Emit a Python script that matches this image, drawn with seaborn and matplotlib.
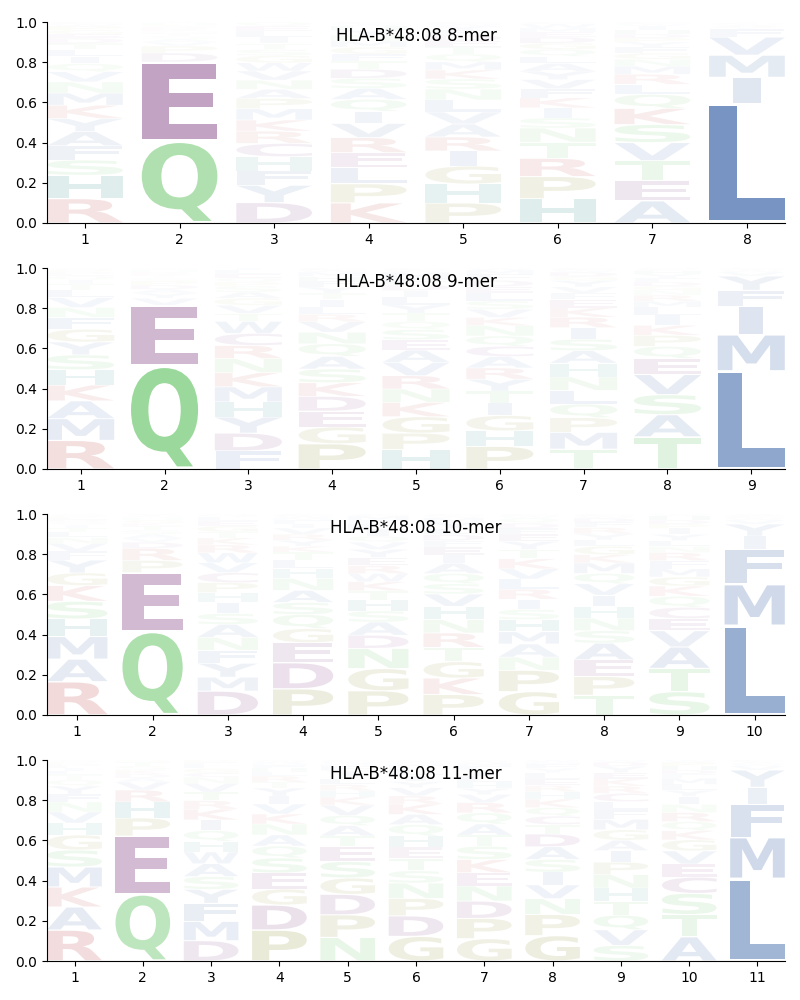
import matplotlib
matplotlib.use("Agg")
import matplotlib.pyplot as plt
import seaborn as sns
from matplotlib.textpath import TextPath
from matplotlib.patches import PathPatch
from matplotlib.font_manager import FontProperties
from matplotlib.transforms import Affine2D

allele = "HLA-B*48:08"
lengths = [8, 9, 10, 11]

# per-position amino-acid probabilities, listed bottom-to-top as stacked in the logo
mer8 = [
    dict(R=.12, H=.115, S=.075, F=.07, A=.07, Y=.065, K=.065, M=.06, N=.055, V=.05, Q=.04, I=.035, L=.035, T=.03, D=.025, E=.02, G=.02, P=.02, W=.01, C=.01),
    dict(Q=.41, E=.395, D=.045, P=.035, V=.02, A=.015, S=.015, T=.015, N=.01, K=.01, R=.01, G=.01, H=.01, Y=.005),
    dict(D=.10, Y=.085, F=.07, H=.07, C=.065, R=.06, K=.055, M=.055, P=.05, A=.045, N=.045, V=.045, W=.04, G=.035, S=.03, T=.03, I=.03, L=.03, E=.025, Q=.02),
    dict(K=.10, P=.095, L=.08, E=.075, R=.075, V=.07, I=.06, Q=.06, A=.055, S=.05, D=.045, T=.04, F=.035, G=.035, M=.03, N=.03, Y=.025, H=.02, W=.01, C=.01),
    dict(P=.10, H=.095, G=.09, I=.075, R=.07, A=.065, V=.06, L=.06, N=.055, S=.05, K=.045, M=.04, Q=.04, T=.035, E=.03, D=.03, F=.025, Y=.02, W=.01, C=.01),
    dict(H=.12, P=.11, R=.09, T=.08, N=.07, S=.05, I=.05, K=.05, F=.045, V=.045, Y=.04, A=.04, L=.035, Q=.035, G=.03, D=.03, E=.025, M=.02, W=.02, C=.01),
    dict(A=.11, E=.10, T=.10, V=.09, S=.09, K=.08, Q=.07, L=.05, R=.05, M=.04, N=.035, G=.03, F=.03, Y=.025, P=.02, D=.02, H=.02, I=.02, W=.01, C=.01),
    dict(L=.595, I=.13, M=.11, V=.09, F=.04, Y=.01, A=.008, W=.006, C=.006, T=.005),
]
mer9 = [
    dict(R=.145, M=.11, A=.09, K=.08, H=.078, S=.075, Y=.065, G=.065, F=.06, N=.05, V=.05, L=.04, T=.03, I=.02, Q=.02, E=.01, D=.01, P=.01, W=.005, C=.005),
    dict(Q=.515, E=.30, V=.035, Y=.025, A=.02, D=.02, P=.02, S=.015, T=.01, K=.01, R=.01, H=.01, N=.005, G=.005),
    dict(F=.09, D=.088, Y=.08, H=.075, M=.075, K=.07, N=.07, R=.065, C=.06, W=.06, T=.04, V=.04, G=.035, A=.03, S=.03, P=.02, Q=.02, E=.02, L=.02, I=.01),
    dict(P=.12, G=.08, E=.075, D=.07, K=.065, S=.065, A=.06, Q=.06, N=.055, V=.05, R=.035, L=.035, I=.035, T=.03, Y=.03, F=.03, H=.02, M=.02, W=.01, C=.01),
    dict(H=.095, P=.08, G=.08, K=.07, N=.065, R=.065, V=.065, A=.06, E=.05, S=.05, Q=.04, T=.04, Y=.04, L=.04, I=.03, D=.03, F=.03, M=.03, W=.01, C=.01),
    dict(P=.11, H=.075, G=.075, I=.06, T=.058, Y=.058, R=.055, A=.055, C=.05, Q=.05, N=.05, K=.04, V=.04, S=.04, L=.04, E=.03, D=.03, F=.03, M=.02, W=.01),
    dict(T=.095, M=.08, P=.07, Q=.065, L=.065, N=.065, H=.065, A=.06, S=.055, I=.055, R=.05, K=.045, E=.04, F=.03, V=.03, Y=.03, G=.02, D=.02, W=.01, C=.01),
    dict(T=.16, A=.11, S=.10, V=.10, E=.08, Q=.06, P=.055, K=.05, I=.05, L=.04, M=.03, R=.03, N=.025, G=.02, D=.02, F=.02, Y=.02, H=.015, C=.01, W=.005),
    dict(L=.485, M=.18, I=.14, F=.08, Y=.07, V=.02, W=.01, A=.005, C=.005),
]
mer10 = [
    dict(R=.17, A=.115, M=.115, H=.09, S=.09, K=.08, G=.065, Y=.065, F=.045, V=.04, N=.03, L=.03, T=.02, I=.015, Q=.015, D=.01, E=.01, P=.01, W=.005, C=.005),
    dict(Q=.415, E=.29, P=.06, R=.06, D=.03, V=.02, A=.02, S=.02, T=.02, K=.015, G=.015, H=.01, N=.01, Y=.01),
    dict(D=.12, M=.07, Y=.07, F=.065, N=.065, A=.065, S=.055, I=.055, H=.05, P=.05, C=.05, V=.05, W=.05, R=.04, K=.035, T=.03, G=.03, E=.025, L=.02, Q=.015),
    dict(P=.13, D=.13, E=.10, G=.07, Q=.07, S=.06, A=.06, N=.06, H=.05, L=.04, T=.04, K=.03, Y=.03, R=.03, V=.03, I=.02, F=.02, M=.01, W=.01, C=.01),
    dict(P=.12, G=.11, N=.10, D=.065, A=.065, S=.055, H=.055, T=.045, K=.045, W=.04, R=.04, E=.04, Y=.04, V=.035, Q=.03, I=.03, L=.03, F=.02, M=.02, C=.01),
    dict(P=.10, K=.08, G=.08, T=.07, R=.07, N=.065, H=.065, V=.06, S=.05, Q=.05, A=.05, I=.04, E=.04, F=.03, D=.03, L=.03, Y=.03, M=.02, W=.01, C=.01),
    dict(G=.115, P=.105, N=.065, A=.065, M=.06, H=.06, S=.05, I=.05, R=.05, L=.05, V=.05, K=.05, T=.045, Y=.04, E=.035, F=.03, D=.025, Q=.025, W=.01, C=.01),
    dict(T=.095, P=.09, E=.08, A=.08, S=.06, N=.06, H=.055, I=.055, V=.055, Q=.05, M=.05, K=.04, G=.04, L=.03, Y=.03, R=.03, F=.025, D=.02, W=.01, C=.01),
    dict(S=.115, T=.115, A=.105, V=.08, E=.06, C=.055, Q=.055, K=.05, G=.045, M=.04, F=.04, R=.04, N=.03, L=.03, Y=.03, I=.03, P=.02, D=.02, H=.02, W=.01),
    dict(L=.445, M=.205, F=.175, I=.065, Y=.06, V=.02, W=.01, C=.01, A=.01),
]
mer11 = [
    dict(R=.155, A=.115, K=.10, M=.10, S=.085, G=.075, H=.06, V=.055, N=.05, F=.04, Y=.04, Q=.03, T=.025, L=.02, I=.015, E=.01, D=.01, P=.01, W=.005, C=.005),
    dict(Q=.335, E=.29, P=.09, H=.08, R=.06, V=.04, A=.02, D=.02, K=.02, S=.02, T=.02, G=.01),
    dict(D=.095, M=.09, F=.085, Y=.065, S=.06, A=.06, W=.055, H=.05, Q=.05, I=.05, K=.05, R=.04, T=.04, V=.04, N=.03, C=.02, G=.02, L=.02, E=.01, P=.01),
    dict(P=.155, D=.125, G=.08, E=.08, S=.075, Q=.06, A=.055, N=.055, K=.05, V=.05, I=.04, Y=.04, T=.03, R=.03, L=.02, H=.02, F=.015, M=.01, W=.01, C=.005),
    dict(N=.115, P=.11, D=.10, G=.08, S=.08, E=.075, T=.05, A=.05, Q=.05, V=.05, K=.04, H=.03, R=.03, L=.03, I=.02, Y=.02, F=.02, M=.01, W=.01, C=.01),
    dict(G=.12, D=.10, P=.085, N=.075, S=.06, T=.06, E=.055, H=.055, Q=.055, A=.05, K=.05, R=.04, V=.04, Y=.03, I=.03, L=.03, F=.02, M=.01, W=.01, C=.005),
    dict(G=.11, P=.10, D=.085, N=.075, E=.065, K=.065, S=.065, T=.055, A=.055, Q=.055, R=.05, V=.04, Y=.03, H=.03, L=.03, I=.03, F=.02, M=.015, W=.01, C=.005),
    dict(G=.12, P=.10, N=.075, V=.065, I=.06, S=.06, A=.06, D=.06, T=.045, C=.04, Q=.04, K=.04, H=.035, R=.03, E=.03, L=.03, Y=.02, F=.02, M=.01, W=.01),
    dict(S=.075, V=.075, Q=.07, T=.065, H=.065, N=.065, P=.06, I=.055, A=.05, G=.05, M=.05, F=.045, L=.04, C=.04, R=.035, K=.035, E=.03, Y=.03, D=.02, W=.01),
    dict(A=.12, T=.11, S=.105, C=.08, E=.065, V=.065, G=.055, K=.045, Q=.045, R=.045, N=.04, I=.04, Y=.03, L=.03, M=.03, F=.02, D=.02, H=.02, P=.02, W=.01),
    dict(L=.41, M=.205, F=.165, I=.085, Y=.085, V=.02, W=.01, A=.01, C=.01),
]
panels = [mer8, mer9, mer10, mer11]

# residue groups -> colours
group_color = {
    "hydrophobic": "#4c72b0",
    "polar": "#68c568",
    "acidic": "#864888",
    "basic": "#c44e52",
    "special": "#969640",
    "histidine": "#328c8c",
}
letter_group = {}
for aa in "AVILMFWY":
    letter_group[aa] = "hydrophobic"
for aa in "STNQ":
    letter_group[aa] = "polar"
for aa in "DEC":
    letter_group[aa] = "acidic"
for aa in "KR":
    letter_group[aa] = "basic"
for aa in "PG":
    letter_group[aa] = "special"
letter_group["H"] = "histidine"

WIDTH = 0.8
VPAD = 0.05
ALPHA_K = 1.28

sns.set_style("ticks", {"axes.edgecolor": "black", "xtick.color": "black",
                        "ytick.color": "black", "text.color": "black",
                        "axes.labelcolor": "black"})
plt.rcParams["font.family"] = ["DejaVu Sans"]

fp = FontProperties(family="DejaVu Sans", weight="bold")
E_ext = TextPath((0, 0), "E", size=1, prop=fp).get_extents()


def draw_logo(ax, positions):
    for i, probs in enumerate(positions):
        x = i + 1
        total = sum(probs.values())
        items = sorted(((k, v / total) for k, v in probs.items()), key=lambda kv: -kv[1])
        y = 0.0
        for ch, p in items:
            tp = TextPath((0, 0), ch, size=1, prop=fp)
            ext = tp.get_extents()
            h = p * (1 - VPAD)
            sx = min(WIDTH / ext.width, WIDTH / E_ext.width)
            sy = h / ext.height
            gw = ext.width * sx
            tr = (Affine2D().translate(-ext.x0, -ext.y0).scale(sx, sy)
                  .translate(x - gw / 2, y + p * VPAD / 2))
            patch = PathPatch(tr.transform_path(tp),
                              facecolor=group_color[letter_group[ch]],
                              edgecolor="none", alpha=min(1.0, ALPHA_K * p))
            ax.add_patch(patch)
            y += p
    n = len(positions)
    ax.set_xlim(1 - WIDTH / 2, n + WIDTH / 2)
    ax.set_ylim(0, 1)
    ax.set_xticks(range(1, n + 1))
    ax.set_yticks([0, 0.2, 0.4, 0.6, 0.8, 1.0])


fig, axes = plt.subplots(4, 1, figsize=(8, 10), dpi=100)
fig.subplots_adjust(left=0.059, right=0.981, top=0.978, bottom=0.039, hspace=0.224)
for ax, L, data in zip(axes, lengths, panels):
    draw_logo(ax, data)
    ax.text(0.5, 0.93, f"{allele} {L}-mer", transform=ax.transAxes,
            ha="center", va="center", fontsize=12)
    sns.despine(ax=ax)

fig.savefig("out.png", dpi=100)
